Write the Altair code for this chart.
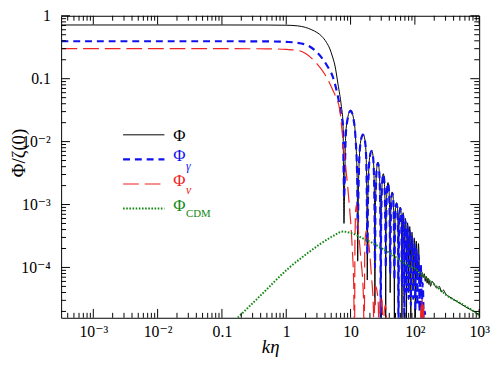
import altair as alt
import pandas as pd

W, H = 425, 307

# ---------------- data (k*eta, log10 of |value|) ----------------
phi_k = [3.2e-4, 1e-3, 1e-2, 0.1, 0.5, 1.0, 1.5, 2.0, 2.5, 3.0, 3.56, 4.2, 4.77, 5.2, 5.69, 6.38, 7.2, 7.63, 7.9,
         8.1, 8.4, 9.0, 10.0, 11.1, 11.9, 12.7, 12.9,
         13.2, 13.7, 14.5, 15.6, 16.7, 17.5, 17.9, 18.2,
         18.5, 19.1, 20.0, 21.2, 22.3, 23.1, 23.6, 23.9,
         24.2, 24.8, 25.6, 26.6, 27.6, 28.5, 29.1, 29.4,
         29.7, 30.4, 31.3, 32.3, 33.3, 34.2, 34.9, 35.2,
         35.5, 36.2, 37.1, 38.2, 39.3, 40.3, 41.0, 41.3,
         41.8, 43.0, 44.5, 46.0, 47.4, 48.0,
         48.6, 50.1, 51.9, 53.6, 54.9, 55.5,
         56.2, 57.6, 59.3, 61.0, 62.3, 63.0,
         63.6, 65.8, 67.9, 68.5,
         69.1, 71.3, 73.4, 74.0,
         74.6, 77.0, 79.4, 80.0,
         80.7, 83.2, 85.8, 86.5,
         87.3, 90.2, 93.2, 94.0,
         94.8, 97.8, 100.7, 101.5,
         102.3, 105.2, 108.2, 109.0,
         110.0, 113.5, 117.0, 118.0,
         122, 126, 130, 135, 140, 145, 150, 155, 160, 165, 170, 175, 185, 200, 220, 240, 260, 280, 300,
         350, 400, 450, 500, 600, 700, 800, 900, 1000]
phi_log = [-0.146, -0.146, -0.146, -0.146, -0.147, -0.150, -0.16, -0.185, -0.223, -0.265, -0.325, -0.42, -0.527, -0.64, -0.782, -1.087, -1.442, -1.70, -3.3,
           -2.66, -1.90, -1.63, -1.50, -1.63, -1.90, -2.66, -3.9,
           -2.9, -2.25, -1.97, -1.88, -1.97, -2.25, -2.9, -4.2,
           -3.1, -2.5, -2.22, -2.14, -2.22, -2.5, -3.1, -4.6,
           -3.3, -2.7, -2.41, -2.33, -2.41, -2.7, -3.3, -4.2,
           -3.5, -2.88, -2.59, -2.51, -2.59, -2.88, -3.5, -4.9,
           -3.6, -3.0, -2.73, -2.65, -2.73, -3.0, -3.6, -4.4,
           -3.5, -2.88, -2.80, -2.88, -3.5, -5.0,
           -3.6, -3.05, -2.97, -3.05, -3.6, -4.6,
           -3.7, -3.12, -3.04, -3.12, -3.7, -5.0,
           -3.7, -3.13, -3.7, -4.5,
           -3.8, -3.22, -3.8, -5.0,
           -3.85, -3.29, -3.85, -4.4,
           -3.9, -3.35, -3.9, -4.9,
           -4.0, -3.44, -4.0, -4.3,
           -4.05, -3.53, -4.05, -4.8,
           -4.1, -3.58, -4.1, -4.2,
           -4.1, -3.62, -4.0, -4.25,
           -4.05, -4.2, -4.08, -4.16, -4.1, -4.22, -4.14, -4.25, -4.17, -4.27, -4.2, -4.3, -4.22, -4.27, -4.33, -4.30, -4.39, -4.36, -4.42,
           -4.47, -4.51, -4.54, -4.57, -4.62, -4.66, -4.69, -4.72, -4.75]

gam_k = [3.2e-4, 1e-3, 1e-2, 0.1, 0.5, 1.0, 1.39, 2.22, 3.16, 4.25, 5.35, 6.38, 7.2, 7.63, 7.95,
         8.15, 8.4, 9.0, 10.0, 11.1, 11.9, 12.7, 12.95,
         13.25, 13.7, 14.5, 15.6, 16.7, 17.5, 17.9, 18.3,
         18.6, 19.1, 20.0, 21.2, 22.3, 23.1, 23.6, 24.0,
         24.3, 24.8, 25.6, 26.6, 27.6, 28.5, 29.1, 29.5,
         29.8, 30.4, 31.3, 32.3, 33.3, 34.2, 34.9, 35.3,
         35.6, 36.2, 37.1, 38.2, 39.3, 40.3, 41.0, 41.4,
         41.9, 43.0, 44.5, 46.0, 47.4, 48.1,
         48.7, 50.1, 51.9, 53.6, 54.9, 55.6,
         56.3, 57.6, 59.3, 61.0, 62.3, 63.1,
         63.7, 65.8, 67.9, 68.6,
         69.2, 71.3, 73.4, 74.1,
         74.7, 77.0, 79.4, 80.1,
         80.8, 83.2, 85.8, 86.6,
         87.4, 90.2, 93.2, 94.1,
         94.9, 97.8, 100.7, 101.6,
         102.4, 105.2, 108.2, 109.1,
         110.1, 113.5, 117.0, 118.1,
         119.5, 123.0, 126.5, 128.0,
         129.0, 132.0, 135.5, 137.0,
         139.0, 143.0, 148.0, 155.0, 200.0]
gam_log = [-0.405, -0.405, -0.405, -0.405, -0.407, -0.415, -0.425, -0.477, -0.604, -0.782, -0.985, -1.29, -1.595, -1.75, -2.9,
           -2.5, -1.92, -1.64, -1.51, -1.64, -1.92, -2.6, -3.4,
           -2.8, -2.26, -1.98, -1.89, -1.98, -2.26, -2.9, -3.8,
           -3.0, -2.52, -2.23, -2.15, -2.23, -2.52, -3.1, -4.0,
           -3.2, -2.72, -2.42, -2.34, -2.42, -2.72, -3.3, -5.2,
           -3.4, -2.9, -2.6, -2.52, -2.6, -2.9, -3.5, -4.0,
           -3.5, -3.02, -2.74, -2.66, -2.74, -3.02, -3.6, -4.1,
           -3.5, -2.9, -2.82, -2.9, -3.5, -4.2,
           -3.6, -3.07, -2.99, -3.07, -3.6, -5.2,
           -3.7, -3.14, -3.06, -3.14, -3.7, -4.3,
           -3.7, -3.16, -3.7, -5.2,
           -3.8, -3.26, -3.8, -4.4,
           -3.9, -3.34, -3.9, -4.5,
           -3.95, -3.42, -3.95, -4.6,
           -4.05, -3.52, -4.05, -4.5,
           -4.1, -3.62, -4.1, -4.7,
           -4.2, -3.7, -4.2, -4.6,
           -4.3, -3.8, -4.3, -4.7,
           -4.4, -3.95, -4.4, -4.8,
           -4.6, -4.25, -4.6, -5.5,
           -5.0, -4.7, -5.2, -6.0, -7.0]

nu_k = [3.2e-4, 1e-3, 1e-2, 0.1, 0.5, 1.0, 1.56, 2.0, 2.81, 4.0, 5.35, 5.9, 6.78, 7.9, 9.4, 10.6, 11.2, 11.5,
        11.7, 12.0, 12.4, 12.7, 14.2, 15.9, 16.3,
        16.6, 17.0, 17.6, 19.1, 21.0, 22.7, 23.2,
        23.6, 24.5, 25.5, 27.0, 28.0,
        28.5, 29.5, 31.0, 32.5,
        33.0, 34.5, 36.0, 37.5,
        40, 60, 100, 118, 122, 125, 127, 129, 131, 133, 135, 137, 139, 142, 200, 1000]
nu_log = [-0.523, -0.523, -0.523, -0.523, -0.525, -0.535, -0.553, -0.60, -0.73, -0.934, -1.19, -1.29, -1.49, -2.15, -2.92, -3.68, -4.29, -5.5,
          -3.6, -3.1, -3.0, -3.17, -3.77, -4.49, -5.5,
          -3.8, -3.5, -3.42, -3.6, -4.1, -4.69, -5.5,
          -4.6, -4.3, -4.35, -4.6, -5.5,
          -4.7, -4.45, -4.55, -5.5,
          -4.8, -4.6, -4.75, -5.6,
          -6.0, -6.5, -6.2, -5.6, -4.9, -4.6, -5.2, -4.55, -4.5, -5.3, -4.6, -4.65, -5.4, -6.0, -7.0, -8.0]

cdm_k = [0.1, 0.188, 0.404, 1.04, 2.1, 3.35, 5.35, 7.6, 10, 16.4, 20, 28.8, 42, 75, 107, 136, 200, 310, 556, 890, 1000]
cdm_log = [-5.04, -4.77, -4.44, -4.03, -3.78, -3.63, -3.50, -3.43, -3.45, -3.55, -3.59, -3.68, -3.78, -3.96, -4.04,
           -4.13, -4.27, -4.44, -4.59, -4.72, -4.76]

x_major = [1e-3, 1e-2, 0.1, 1, 10, 100, 1000]
y_major = [1e-4, 1e-3, 1e-2, 0.1, 1]
mantissas = [2, 3, 4, 5, 6, 7, 8, 9]
x_minor = [m * 10.0 ** e for e in range(-4, 3) for m in mantissas if 3.16e-4 < m * 10.0 ** e < 1000]
y_minor = [m * 10.0 ** e for e in range(-5, 0) for m in mantissas if 1.6e-5 < m * 10.0 ** e < 1]


def frame(k, lg):
    return pd.DataFrame({"k": k, "v": [10.0 ** x for x in lg]})


xdom = [3.16e-4, 1000]
ydom = [1.585e-5, 1.0]
xscale = alt.Scale(type="log", domain=xdom, nice=False)
yscale = alt.Scale(type="log", domain=ydom, nice=False)

SERIF = "'Liberation Serif', 'Times New Roman', 'DejaVu Serif', serif"

xaxis = alt.Axis(
    values=x_major,
    labelExpr="datum.value < 0.005 ? '10⁻³' : datum.value < 0.05 ? '10⁻²' : datum.value < 0.5 ? '0.1' : "
              "datum.value < 5 ? '1' : datum.value < 50 ? '10' : datum.value < 500 ? '10²' : '10³'",
    title="kη", titleFontStyle="italic", titleFontSize=19, titlePadding=-2,
    labelPadding=6, labelOverlap=False, labelFlush=False,
    ticks=False, tickSize=0, domain=False, grid=False,
)
yaxis = alt.Axis(
    values=y_major,
    labelExpr="datum.value > 0.5 ? '1' : datum.value > 0.05 ? '0.1' : datum.value > 0.005 ? '10⁻²' : "
              "datum.value > 0.0005 ? '10⁻³' : '10⁻⁴'",
    title="Φ/ζ(0)", titleFontSize=19,
    titleX=-43, titleY=139, titleBaseline="middle", titleAngle=-90,
    labelPadding=11, labelOverlap=False, labelFlush=False,
    ticks=False, tickSize=0, domain=False, grid=False,
)


def curve(k, lg, color, width, dash=None):
    kw = dict(color=color, strokeWidth=width, clip=True, interpolate="monotone")
    if dash:
        kw["strokeDash"] = dash
    return alt.Chart(frame(k, lg)).mark_line(**kw).encode(
        x=alt.X("k:Q", scale=xscale, axis=xaxis),
        y=alt.Y("v:Q", scale=yscale, axis=yaxis),
    )


phi = curve(phi_k, phi_log, "black", 1.0)
gam = curve(gam_k, gam_log, "#1010ee", 2.2, dash=[7, 5])
nu = curve(nu_k, nu_log, "#ee2222", 1.2, dash=[16, 6])
cdm = curve(cdm_k, cdm_log, "#118811", 2.0, dash=[1.6, 1.6])


def xticks(vals, length, top):
    return alt.Chart(pd.DataFrame({"k": vals})).mark_rule(color="black", strokeWidth=1).encode(
        x=alt.X("k:Q", scale=xscale, axis=xaxis),
        y=alt.value(0 if top else H), y2=alt.value(length if top else H - length),
    )


def yticks(vals, length, right):
    return alt.Chart(pd.DataFrame({"v": vals})).mark_rule(color="black", strokeWidth=1).encode(
        y=alt.Y("v:Q", scale=yscale, axis=yaxis),
        x=alt.value(W if right else 0), x2=alt.value(W - length if right else length),
    )


ticks = [xticks(x_major, 9, False), xticks(x_major, 9, True), xticks(x_minor, 5, False), xticks(x_minor, 5, True),
         yticks(y_major, 9, False), yticks(y_major, 9, True), yticks(y_minor, 5, False), yticks(y_minor, 5, True)]

dummy = pd.DataFrame({"a": [0]})


def leg_line(y, color, width, dash=None):
    kw = dict(color=color, strokeWidth=width)
    if dash:
        kw["strokeDash"] = dash
    return alt.Chart(dummy).mark_rule(**kw).encode(x=alt.value(63), x2=alt.value(105), y=alt.value(y))


def leg_text(x, y, txt, color, size, base="middle", style="normal"):
    return alt.Chart(dummy).mark_text(text=txt, align="left", baseline=base, font=SERIF, fontSize=size,
                                      color=color, fontStyle=style).encode(x=alt.value(x), y=alt.value(y))


legend = [
    leg_line(121, "black", 1.0),
    leg_line(146, "#1010ee", 2.2, [7, 5]),
    leg_line(171, "#ee2222", 1.2, [16, 6]),
    leg_line(196, "#118811", 2.0, [1.6, 1.6]),
    leg_text(114, 122, "Φ", "black", 17),
    leg_text(114, 143, "Φ", "#1010ee", 17),
    leg_text(127, 157, "γ", "#1010ee", 12, "alphabetic", "italic"),
    leg_text(114, 168, "Φ", "#ee2222", 17),
    leg_text(127, 181, "ν", "#ee2222", 12, "alphabetic", "italic"),
    leg_text(114, 193, "Φ", "#118811", 17),
    leg_text(127, 205, "CDM", "#118811", 11, "alphabetic"),
]

chart = alt.layer(phi, gam, nu, cdm, *ticks, *legend).properties(
    width=W, height=H,
    padding={"left": 54, "top": 5, "right": 12, "bottom": 40},
    autosize=alt.AutoSizeParams(type="none"),
).configure_view(stroke="black", strokeWidth=1).configure_axis(
    labelFont=SERIF, titleFont=SERIF, labelFontSize=16, titleFontWeight="normal",
    labelColor="black", titleColor="black",
)

chart.save("out.html", embed_options={"renderer": "svg", "actions": False})
